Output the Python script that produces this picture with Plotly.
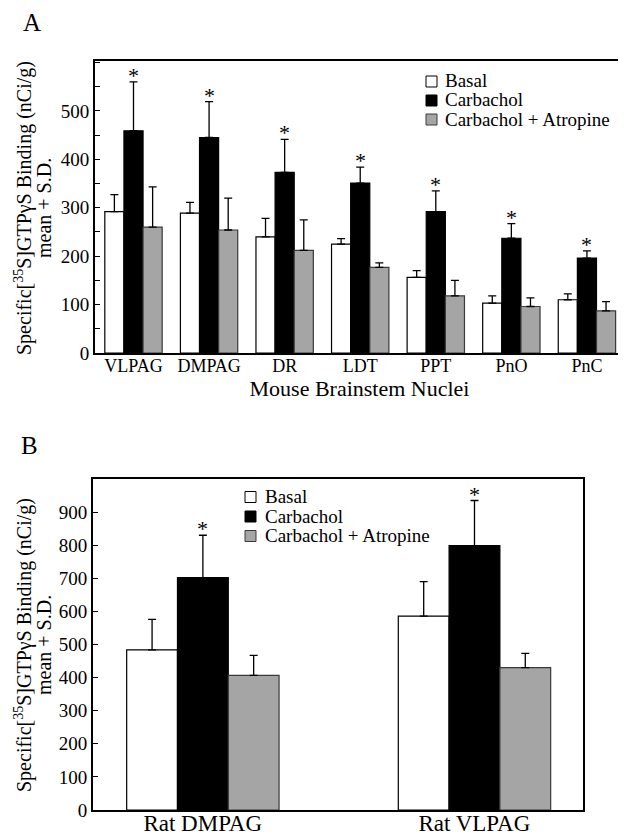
import plotly.graph_objects as go

# ---------------- data ----------------
nuclei = ["VLPAG", "DMPAG", "DR", "LDT", "PPT", "PnO", "PnC"]
basal_A = [292, 289, 240, 225, 156, 103, 110]
basal_A_sd = [35, 22, 38, 11, 14, 15, 12]
carb_A = [459, 445, 373, 351, 292, 237, 196]
carb_A_sd = [101, 74, 68, 33, 43, 30, 15]
atro_A = [260, 254, 212, 177, 118, 96, 87]
atro_A_sd = [83, 66, 63, 9, 32, 18, 19]

rat_regions = ["Rat DMPAG", "Rat VLPAG"]
basal_B = [484, 586]
basal_B_sd = [92, 104]
carb_B = [702, 799]
carb_B_sd = [128, 136]
atro_B = [407, 430]
atro_B_sd = [60, 43]

series_names = ["Basal", "Carbachol", "Carbachol + Atropine"]
yticks_A = [0, 100, 200, 300, 400, 500]
yticks_B = [0, 100, 200, 300, 400, 500, 600, 700, 800, 900]
ytitle_lines = ["Specific[<sup>35</sup>S]GTPγS Binding (nCi/g)", "mean + S.D."]

# ---------------- style ----------------
FONT = "Liberation Serif"
fills = ["#ffffff", "#000000", "#a5a5a5"]
edges = ["#000000", "#000000", "#3a3a3a"]
OFF = 8                      # page body margin
W, H = 626 - OFF, 839 - OFF

def px_x(x):
    return (x - OFF) / W

def px_y(y):
    return (H - (y - OFF)) / H

fig = go.Figure()
annotations = []
shapes = []

def add_panel(cats, vals, sds, xa, ya, width, offsets, leg_box_x, leg_text_x, leg_rows,
              title_y):
    for i in range(3):
        fig.add_trace(go.Bar(
            x=cats, y=vals[i], name=series_names[i],
            xaxis=xa, yaxis=ya, showlegend=False,
            width=width, offset=offsets[i],
            marker=dict(color=fills[i], line=dict(color=edges[i], width=1.2)),
            error_y=dict(type="data", array=sds[i], arrayminus=[0] * len(cats),
                         symmetric=False, color="#000000", thickness=1.3, width=4),
        ))
    # significance stars above the carbachol error bars
    for c, v, s in zip(cats, vals[1], sds[1]):
        annotations.append(dict(
            text="*", x=c, y=v + s, xref=xa, yref=ya, xanchor="center",
            yanchor="bottom", yshift=-8, showarrow=False,
            font=dict(family=FONT, size=22, color="black")))
    # legend (manual, to match compact line spacing)
    for i, name in enumerate(series_names):
        yc = leg_rows[i]
        shapes.append(dict(
            type="rect", xref="paper", yref="paper",
            x0=px_x(leg_box_x), x1=px_x(leg_box_x + 11),
            y0=px_y(yc + 5.5), y1=px_y(yc - 5.5),
            fillcolor=fills[i], line=dict(color=edges[i] if i == 2 else "black", width=1)))
        annotations.append(dict(
            text=name, x=px_x(leg_text_x), y=px_y(yc - 0.5), xref="paper", yref="paper",
            xanchor="left", yanchor="middle", showarrow=False,
            font=dict(family=FONT, size=19, color="black")))
    # y-axis title, two rotated lines
    for line, xc in zip(ytitle_lines, [23, 44]):
        annotations.append(dict(
            text=line, x=px_x(xc), y=px_y(title_y), xref="paper", yref="paper",
            xanchor="center", yanchor="middle", textangle=-90, showarrow=False,
            font=dict(family=FONT, size=20, color="black")))

add_panel(nuclei, [basal_A, carb_A, atro_A], [basal_A_sd, carb_A_sd, atro_A_sd],
          "x", "y", 0.253, [-0.38, -0.127, 0.126], 426, 443, [81.5, 100.5, 119.5], 208)
add_panel(rat_regions, [basal_B, carb_B, atro_B], [basal_B_sd, carb_B_sd, atro_B_sd],
          "x2", "y2", 0.187, [-0.28, -0.093, 0.094], 245, 263, [497, 516.5, 536], 645)

axis_common = dict(showline=True, linecolor="black", linewidth=2, mirror=True,
                   showgrid=False, zeroline=False, automargin=False)

annotations += [
    dict(text="A", x=px_x(32), y=1.0, xref="paper", yref="paper",
         xanchor="center", yanchor="top", showarrow=False, borderpad=0,
         font=dict(family=FONT, size=25, color="black")),
    dict(text="B", x=px_x(29), y=px_y(445), xref="paper", yref="paper",
         xanchor="center", yanchor="middle", showarrow=False,
         font=dict(family=FONT, size=25, color="black")),
]

fig.update_layout(
    width=W, height=H,
    margin=dict(l=0, r=0, t=0, b=0),
    paper_bgcolor="white", plot_bgcolor="white",
    font=dict(family=FONT, color="black"),
    barmode="group",
    xaxis=dict(**axis_common, domain=[px_x(95), px_x(624)], anchor="y",
               range=[-0.51, 6.49], ticks="", ticklabelstandoff=-5,
               tickfont=dict(family=FONT, size=18, color="black"),
               title=dict(text="Mouse Brainstem Nuclei", font=dict(family=FONT, size=22), standoff=0)),
    yaxis=dict(**axis_common, domain=[px_y(353), px_y(61)], anchor="x",
               range=[0, 603], tickvals=yticks_A, ticktext=[str(v) for v in yticks_A],
               tickfont=dict(family=FONT, size=19, color="black"),
               ticks="inside", ticklen=5, tickcolor="black", tickwidth=1.3,
               minor=dict(dtick=50, ticks="inside", ticklen=5, tickcolor="black", tickwidth=1.3)),
    xaxis2=dict(**axis_common, domain=[px_x(93), px_x(583)], anchor="y2",
                range=[-0.404, 1.40], ticks="", ticklabelstandoff=-9,
                tickfont=dict(family=FONT, size=23, color="black")),
    yaxis2=dict(**axis_common, domain=[px_y(810), px_y(479)], anchor="x2",
                range=[0, 1000], tickvals=yticks_B, ticktext=[str(v) for v in yticks_B],
                tickfont=dict(family=FONT, size=19, color="black"),
                ticks="inside", ticklen=5, tickcolor="black", tickwidth=1.3),
    shapes=shapes,
    annotations=annotations,
)

fig.write_html("out.html")
